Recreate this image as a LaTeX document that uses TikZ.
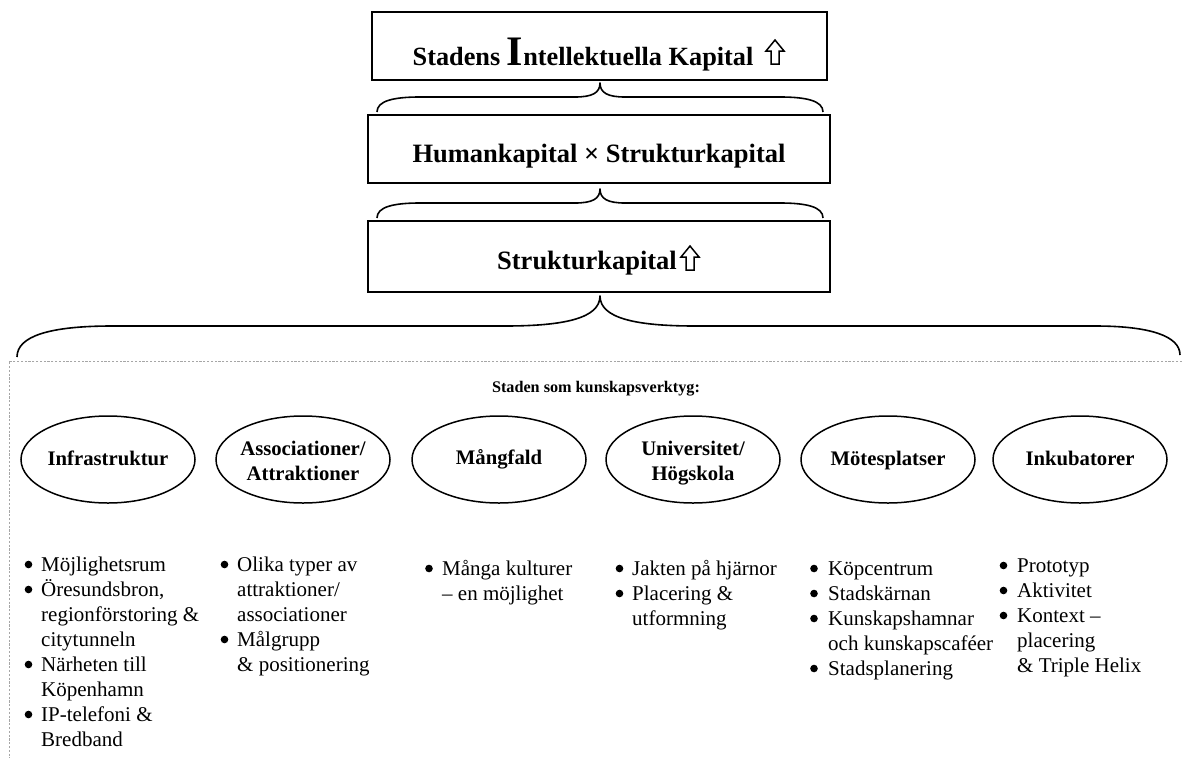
\documentclass[tikz,border=0pt]{standalone}
\usepackage{fontspec}
\setmainfont{Liberation Serif}
\usetikzlibrary{shapes.geometric}
% two centred lines whose baseline is the first line's
\newcommand\twolines[2]{\begin{tabular}[t]{@{}c@{}}#1\\#2\end{tabular}}
\begin{document}
\begin{tikzpicture}[x=1pt,y=-1pt,
  level/.style={draw, rectangle, line width=1.6pt, inner sep=0pt},
  pillar/.style={draw, ellipse, line width=1.5pt, minimum width=174pt, minimum height=87pt, inner sep=0pt},
  brace/.style={line width=1.6pt, line join=round},
  uparrow/.style={draw, line width=1.5pt, fill=white, line join=miter},
  headline/.style={inner sep=0pt, anchor=base},
  lbl/.style={inner sep=0pt, anchor=base, font=\fontsize{20.7}{25}\selectfont\bfseries},
  list/.style={inner sep=0pt, anchor=base west, font=\fontsize{21}{25}\selectfont},
  dot/.style={fill=black},
  pics/hollowup/.style={code={
    \draw[uparrow] (0,0) -- (9,11) -- (4,11) -- (4,24) -- (-4,24) -- (-4,11) -- (-9,11) -- cycle;}}
]
\useasboundingbox (0,0) rectangle (1182,758);

% three stacked levels
\node[level, minimum width=455pt, minimum height=68pt] (top) at (599.5,46) {};
\node[level, minimum width=462pt, minimum height=68pt] (mid) at (599,149) {};
\node[level, minimum width=462pt, minimum height=71pt] (low) at (599,256.5) {};

\node[headline, font=\fontsize{26.3}{30}\selectfont\bfseries] (toptext) at (583,65)
  {Stadens {\fontsize{42}{42}\selectfont I}ntellektuella Kapital};
\pic at (775,40) {hollowup};
\node[headline, font=\fontsize{26.5}{30}\selectfont\bfseries] (midtext) at (599,162)
  {Humankapital × Strukturkapital};
\node[headline, font=\fontsize{26.5}{30}\selectfont\bfseries] (lowtext) at (587,269)
  {Strukturkapital};
\pic at (690,246) {hollowup};

% curly braces joining the levels
\draw[brace] (377,112) .. controls (377,101) and (393,97) .. (420,97) -- (575,97)
  .. controls (592,97) and (600,93) .. (600,83)
  .. controls (600,93) and (608,97) .. (625,97) -- (780,97)
  .. controls (807,97) and (823,101) .. (823,112);
\draw[brace] (377,218) .. controls (377,207) and (393,203) .. (420,203) -- (575,203)
  .. controls (592,203) and (600,199) .. (600,189)
  .. controls (600,199) and (608,203) .. (625,203) -- (780,203)
  .. controls (807,203) and (823,207) .. (823,218);
\draw[brace] (17,357) .. controls (17,336) and (50,326) .. (112,326) -- (505,326)
  .. controls (565,326) and (600,318) .. (600,296)
  .. controls (600,318) and (635,326) .. (695,326) -- (1095,326)
  .. controls (1150,326) and (1180,336) .. (1180,355);

% dotted frame of the lower panel
\draw[gray!70, line width=0.8pt, dash pattern=on 2.2pt off 1.6pt] (1182,361) -- (9,361) -- (9,758);

\node[headline, font=\fontsize{16.2}{18}\selectfont\bfseries] (title) at (596,392)
  {Staden som kunskapsverktyg:};

% the six tools
\node[pillar] (e1) at (108,459.5) {};
\node[pillar] (e2) at (303,459.5) {};
\node[pillar] (e3) at (499,459.5) {};
\node[pillar] (e4) at (693,459.5) {};
\node[pillar] (e5) at (888,459.5) {};
\node[pillar] (e6) at (1080,459.5) {};
\node[lbl] (l1) at (108,465) {Infrastruktur};
\node[lbl] (l2) at (303,455) {\twolines{Associationer/}{Attraktioner}};
\node[lbl] (l3) at (499,464) {Mångfald};
\node[lbl] (l4) at (693,455) {\twolines{Universitet/}{Högskola}};
\node[lbl] (l5) at (888,465) {Mötesplatser};
\node[lbl] (l6) at (1080,465) {Inkubatorer};

% bullet lists: text columns, then a dot before each item's first line
\node[list] (p1) at (41,571) {\begin{tabular}[t]{@{}l@{}}
  Möjlighetsrum\\ Öresundsbron,\\ regionförstoring \&\\ citytunneln\\
  Närheten till\\ Köpenhamn\\ IP-telefoni \&\\ Bredband
\end{tabular}};
\node[list] (p2) at (237,571) {\begin{tabular}[t]{@{}l@{}}
  Olika typer av\\ attraktioner/\\ associationer\\ Målgrupp\\ \& positionering
\end{tabular}};
\node[list] (p3) at (442,575) {\begin{tabular}[t]{@{}l@{}}
  Många kulturer\\ – en möjlighet
\end{tabular}};
\node[list] (p4) at (632,575) {\begin{tabular}[t]{@{}l@{}}
  Jakten på hjärnor\\ Placering \&\\ utformning
\end{tabular}};
\node[list] (p5) at (828,575) {\begin{tabular}[t]{@{}l@{}}
  Köpcentrum\\ Stadskärnan\\ Kunskapshamnar\\ och kunskapscaféer\\ Stadsplanering
\end{tabular}};
\node[list] (p6) at (1017,572) {\begin{tabular}[t]{@{}l@{}}
  Prototyp\\ Aktivitet\\ Kontext –\\ placering\\ \& Triple Helix
\end{tabular}};

\foreach \r in {0,1,4,6} \fill[dot] ([shift={(-12.5,{25*\r-6.5})}]p1.base west) circle (3.8pt);
\foreach \r in {0,3}     \fill[dot] ([shift={(-12.5,{25*\r-6.5})}]p2.base west) circle (3.8pt);
\foreach \r in {0}       \fill[dot] ([shift={(-13,{25*\r-6.5})}]p3.base west) circle (3.8pt);
\foreach \r in {0,1}     \fill[dot] ([shift={(-12.5,{25*\r-6.5})}]p4.base west) circle (3.8pt);
\foreach \r in {0,1,2,4} \fill[dot] ([shift={(-14,{25*\r-6.5})}]p5.base west) circle (3.8pt);
\foreach \r in {0,1,2}   \fill[dot] ([shift={(-13.5,{25*\r-6.5})}]p6.base west) circle (3.8pt);
\end{tikzpicture}
\end{document}
